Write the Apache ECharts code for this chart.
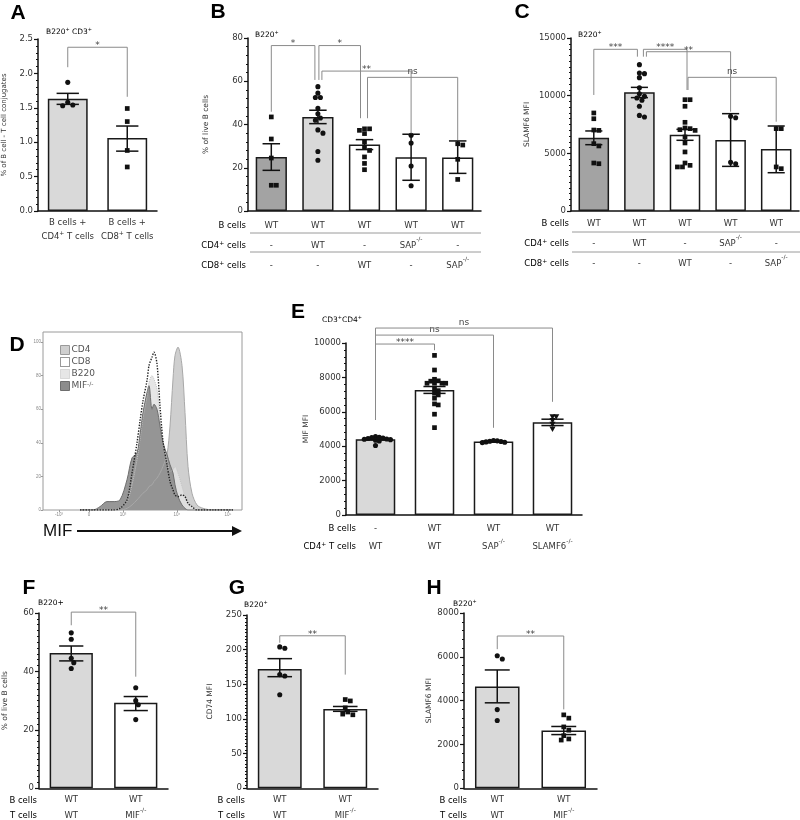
<!DOCTYPE html>
<html>
<head>
<meta charset="utf-8">
<title>Figure</title>
<script src="https://cdn.jsdelivr.net/npm/echarts@6.0.0/dist/echarts.min.js"></script>
<style>
  html, body { margin: 0; background: #fff; }
  #main { width: 800px; height: 820px; }
</style>
</head>
<body>
<div id="main"></div>
<script>
// ---------------- data ----------------
// panel A
const aRow1 = ['B cells +', 'B cells +'];
const aRow2 = ['CD4^+^ T cells', 'CD8^+^ T cells'];
const aBars = [1.63, 1.06];
const aErr = [[1.55, 1.71], [0.87, 1.235]];
const aPts = [[1.87, 1.58, 1.54, 1.53], [1.49, 1.30, 0.88, 0.64]];
const aBrackets = [[0, 1, 2.38, 2.09, 1.66]];
const aStars = ['*'];

// panels B and C share the table under the axis
const bcRow1 = ['WT', 'WT', 'WT', 'WT', 'WT'];
const bcRow2 = ['-', 'WT', '-', 'SAP^-/-^', '-'];
const bcRow3 = ['-', '-', 'WT', '-', 'SAP^-/-^'];
const bcHeads = ['B cells', 'CD4^+^ cells', 'CD8^+^ cells'];

const bBars = [25.0, 43.5, 30.7, 24.8, 24.7];
const bErr = [[18.8, 31.1], [40.4, 46.6], [28.4, 33.0], [14.2, 35.5], [17.4, 32.4]];
const bPts = [
  [43.5, 33.3, 24.5, 11.9, 11.9],
  [57.5, 54.5, 52.5, 52.5, 47.5, 45, 43, 42, 37.5, 36, 27.5, 23.5],
  [38, 38, 37.3, 35.8, 32, 29.6, 28, 25, 22, 19.1],
  [35, 31.4, 20.8, 11.7],
  [31.1, 30.5, 23.9, 14.6]
];
const bBrackets = [[0, 1, 76.5, 45.9, 60.6], [1, 2, 76.5, 60.6, 42.9], [1, 3, 64.7, 60.6, 35.9], [2, 4, 61.8, 42.9, 32.8]];
const bStars = ['*', '*', '**', 'ns'];

const cBars = [6360, 10290, 6620, 6160, 5380];
const cErr = [[5750, 6940], [9830, 10720], [6130, 7080], [3870, 8440], [3320, 7370]];
const cPts = [
  [8500, 8000, 7020, 6990, 5840, 5640, 4160, 4100],
  [12690, 11970, 11910, 11560, 10690, 10170, 9940, 9800, 9600, 9080, 8290, 8150],
  [9650, 9650, 9080, 7690, 7200, 7140, 7050, 6990, 6420, 5900, 5120, 4160, 3960, 3820, 3820],
  [8210, 8090, 4220, 4100],
  [7140, 7140, 3820, 3670]
];
const cBrackets = [[0, 1, 14020, 10060, 13380], [1, 2, 14020, 13380, 10490], [1, 3, 13810, 13380, 8610], [2, 4, 11590, 10490, 7740]];
const cStars = ['***', '****', '**', 'ns'];

// panel D histogram (channel position, % of max)
const histChannel = [37, 50, 57, 64, 70, 77, 84, 89, 94, 97, 100, 104, 106, 109, 111, 114, 117, 120, 124, 127, 130, 132, 135, 139, 142, 145, 149, 154, 160, 170, 190];
const histCD4  = [0, 0, 0, 0, 0, 0, 1, 3, 6, 8, 10, 12, 14, 15, 17, 19, 22, 26, 33, 50, 78, 92, 97, 86, 58, 26, 10, 3, 1, 0, 0];
const histB220 = [0, 0, 0, 0, 0, 1, 5, 15, 30, 42, 55, 68, 76, 80, 78, 72, 55, 40, 30, 23, 24, 26, 22, 14, 8, 4, 2, 1, 0, 0, 0];
const histMIF  = [0, 0, 2, 5, 5, 6, 18, 31, 34, 45, 58, 70, 74, 60, 63, 60, 50, 40, 33, 27, 22, 15, 8, 3, 1, 0, 0, 0, 0, 0, 0];
const histCD8  = [0, 0, 0, 0, 0, 1, 6, 22, 40, 53, 65, 77, 86, 91, 94, 87, 62, 41, 27, 17, 12, 9, 8, 9, 8, 4, 2, 0, 0, 0, 0];
const histTickPos = [16, 46, 80, 134, 185];
const histTickLabel = ['-10\u00b3', '0', '10\u00b3', '10\u2074', '10\u2075'];
const histYTicks = [0, 20, 40, 60, 80, 100];

// panel E
const eRow1 = ['-', 'WT', 'WT', 'WT'];
const eRow2 = ['WT', 'WT', 'SAP^-/-^', 'SLAMF6^-/-^'];
const eHeads = ['B cells', 'CD4^+^ T cells'];
const eBars = [4410, 7270, 4270, 5390];
const eErr = [[4370, 4450], [7070, 7470], [4245, 4295], [5200, 5570]];
const ePts = [
  [4560, 4520, 4500, 4480, 4450, 4420, 4400, 4380, 4350, 4300, 4040],
  [9280, 8430, 7890, 7800, 7780, 7660, 7660, 7660, 7660, 7310, 7230, 7080, 6980, 6790, 6460, 6400, 5860, 5080],
  [4330, 4310, 4290, 4270, 4250, 4230, 4210],
  [5720, 5720, 5500, 5290, 5010]
];
const eBrackets = [[0, 1, 9940, 5530, 9580], [0, 2, 10460, 5530, 5070], [0, 3, 10870, 5530, 6580]];
const eStars = ['****', 'ns', 'ns'];

// panels F, G, H
const fghRow1 = ['WT', 'WT'];
const fghRow2 = ['WT', 'MIF^-/-^'];
const fghHeads = ['B cells', 'T cells'];
const fBars = [46.3, 29.3];
const fErr = [[43.6, 48.7], [26.6, 31.4]];
const fPts = [[53.2, 51, 44.5, 43, 41], [34.4, 30, 28.6, 23.5]];
const fBrackets = [[0, 1, 60.3, 55.8, 38.2]];
const gBars = [172, 114.5];
const gErr = [[161, 187], [111, 118]];
const gPts = [[204, 202, 164, 162, 135], [128, 126, 116, 110, 107, 106]];
const gBrackets = [[0, 1, 220, 210, 164]];
const hBars = [4640, 2640];
const hErr = [[3900, 5400], [2450, 2820]];
const hPts = [[6050, 5900, 3590, 3090], [3350, 3200, 2800, 2650, 2400, 2250, 2200]];
const hBrackets = [[0, 1, 6950, 6350, 3600]];
const fghStars = ['**'];

// ---------------- styles / layout ----------------
const FONT = '"DejaVu Sans", sans-serif';
const DARK = '#a3a3a3', LIGHT = '#d9d9d9', WHITE = '#ffffff';
const SHAPE = { circle: 0, square: 1, tri: 2 };

// superscripts are written between ^...^
function sup(str) {
  return str.split('^').map((p, i) => p === '' ? '' : (i % 2 ? '{s|' + p + '}' : '{n|' + p + '}')).join('');
}
function richFor(size, lh) {
  return {
    n: { fontSize: size, fontFamily: FONT, color: '#333', lineHeight: lh },
    s: { fontSize: Math.round(size * 0.65), fontFamily: FONT, color: '#333',
         lineHeight: Math.max(4, lh - size * 0.8), verticalAlign: 'top' }
  };
}

// simple beeswarm: nudges dots sideways so they do not sit on each other
function swarm(vals, ppu, d) {
  const idx = vals.map((v, i) => i).sort((a, b) => vals[b] - vals[a]);
  const off = vals.map(() => 0);
  const placed = [];
  idx.forEach(i => {
    const y = vals[i] * ppu;
    for (let k = 0; k < 60; k++) {
      const o = (k % 2 ? 1 : -1) * Math.ceil(k / 2) * d * 0.55;
      if (placed.every(q => Math.hypot(o - q[0], y - q[1]) >= d)) { off[i] = o; break; }
    }
    placed.push([off[i], y]);
  });
  return off;
}

const option = {
  animation: false,
  backgroundColor: '#fff',
  grid: [], xAxis: [], yAxis: [], series: [], graphic: []
};

function gText(str, x, y, size, align) {
  return {
    type: 'text', silent: true,
    style: { text: sup(str), x: x, y: y, align: align || 'left', verticalAlign: 'middle',
             rich: richFor(size, Math.round(size * 1.35)) }
  };
}

function barPanel(p) {
  const gi = option.grid.length;
  const [L, T, W, H] = p.box;
  option.grid.push({ left: L, top: T, width: W, height: H });
  option.xAxis.push({
    type: 'category', gridIndex: gi, data: p.bars.map((v, i) => String(i)),
    axisLine: { lineStyle: { color: '#111', width: 1.5 } },
    axisTick: { alignWithLabel: true, length: 3, lineStyle: { color: '#111', width: 1.2 } },
    axisLabel: {
      interval: 0, margin: p.margin,
      formatter: (v, i) => p.rows.map(r => sup(r[i])).join('\n'),
      rich: richFor(8.5, p.lh)
    }
  });
  option.yAxis.push({
    type: 'value', gridIndex: gi, min: p.min, max: p.max, interval: p.interval,
    name: p.yName, nameLocation: 'middle', nameGap: p.nameGap,
    nameTextStyle: { fontSize: p.nameSize || 7.5, color: '#333', fontFamily: FONT },
    axisLine: { show: true, lineStyle: { color: '#111', width: 1.5 } },
    axisTick: { show: true, length: 4, lineStyle: { color: '#111', width: 1.2 } },
    minorTick: { show: true, splitNumber: p.minor, length: 2, lineStyle: { color: '#111', width: 1 } },
    splitLine: { show: false },
    axisLabel: { fontSize: 8.5, color: '#333', fontFamily: FONT, margin: 5,
                 formatter: p.fmt || (v => String(v)) }
  });
  // bars
  option.series.push({
    type: 'bar', xAxisIndex: gi, yAxisIndex: gi, barWidth: '67%', silent: true, z: 2,
    itemStyle: { borderColor: '#1a1a1a', borderWidth: 1.5 },
    data: p.bars.map((v, i) => ({ value: v, itemStyle: { color: p.colors[i] } }))
  });
  // dots
  const ppu = H / (p.max - p.min);
  const dots = [];
  p.pts.forEach((grp, i) => {
    const offs = swarm(grp, ppu, p.dotGap || 4.6);
    grp.forEach((v, k) => dots.push([i, v, offs[k], SHAPE[p.shapes[i]]]));
  });
  option.series.push({
    type: 'custom', xAxisIndex: gi, yAxisIndex: gi, silent: true, clip: false, z: 4, data: dots,
    renderItem: (params, api) => {
      const pt = api.coord([api.value(0), api.value(1)]);
      const x = pt[0] + api.value(2), y = pt[1], r = 2.35;
      const st = { fill: '#111' };
      const kind = api.value(3);
      if (kind === 1) return { type: 'rect', shape: { x: x - r, y: y - r, width: 2 * r, height: 2 * r }, style: st };
      if (kind === 2) return { type: 'polygon', shape: { points: [[x - r * 1.3, y - r], [x + r * 1.3, y - r], [x, y + r * 1.3]] }, style: st };
      return { type: 'circle', shape: { cx: x, cy: y, r: r + 0.2 }, style: st };
    }
  });
  // error bars
  option.series.push({
    type: 'custom', xAxisIndex: gi, yAxisIndex: gi, silent: true, clip: false, z: 5,
    data: p.err.map((e, i) => [i, e[0], e[1]]),
    renderItem: (params, api) => {
      const c = api.value(0);
      const lo = api.coord([c, api.value(1)]);
      const hi = api.coord([c, api.value(2)]);
      const half = api.size([1, 0])[0] * 0.67 * 0.28;
      const st = { stroke: '#111', lineWidth: 1.5 };
      return { type: 'group', children: [
        { type: 'line', shape: { x1: lo[0], y1: lo[1], x2: hi[0], y2: hi[1] }, style: st },
        { type: 'line', shape: { x1: lo[0] - half, y1: lo[1], x2: lo[0] + half, y2: lo[1] }, style: st },
        { type: 'line', shape: { x1: hi[0] - half, y1: hi[1], x2: hi[0] + half, y2: hi[1] }, style: st }
      ] };
    }
  });
  // significance brackets
  const nudge = p.nudge || [];
  option.series.push({
    type: 'custom', xAxisIndex: gi, yAxisIndex: gi, silent: true, clip: false, z: 5,
    data: p.brackets.map(b => b.slice()),
    renderItem: (params, api) => {
      const c1 = api.value(0), c2 = api.value(1);
      const a = api.coord([c1, api.value(2)]);
      const b = api.coord([c2, api.value(2)]);
      const y1 = api.coord([c1, api.value(3)])[1];
      const y2 = api.coord([c2, api.value(4)])[1];
      const n = nudge[params.dataIndex] || [0, 0];
      const x1 = a[0] + n[0], x2 = b[0] + n[1];
      const label = p.stars[params.dataIndex];
      const star = label.indexOf('*') >= 0;
      return { type: 'group', children: [
        { type: 'polyline', shape: { points: [[x1, y1], [x1, a[1]], [x2, a[1]], [x2, y2]] },
          style: { stroke: '#8a8a8a', lineWidth: 1, fill: 'none' } },
        { type: 'text', style: { text: label, x: (x1 + x2) / 2, y: a[1] + (star ? 3 : -1),
          align: 'center', verticalAlign: 'bottom', fontSize: 9, fill: '#444', fontFamily: FONT } }
      ] };
    }
  });
  // row headers of the table under the axis
  (p.heads || []).forEach((h, k) => {
    option.graphic.push(gText(h, p.headX, T + H + p.margin + p.lh * (k + 0.5), 8.5, 'right'));
  });
}

barPanel({ box: [38, 39, 119, 172], min: 0, max: 2.5, interval: 0.5, minor: 5, fmt: v => v.toFixed(1),
  yName: '% of B cell - T cell conjugates', nameGap: 30, nameSize: 7,
  rows: [aRow1, aRow2], lh: 14, margin: 5,
  bars: aBars, err: aErr, pts: aPts, shapes: ['circle', 'square'], colors: [LIGHT, WHITE],
  brackets: aBrackets, stars: aStars });

barPanel({ box: [248, 38, 233, 173], min: 0, max: 80, interval: 20, minor: 5,
  yName: '% of live B cells', nameGap: 38,
  rows: [bcRow1, bcRow2, bcRow3], heads: bcHeads, headX: 246, lh: 20, margin: 5,
  bars: bBars, err: bErr, pts: bPts, shapes: ['square', 'circle', 'square', 'circle', 'square'],
  colors: [DARK, LIGHT, WHITE, WHITE, WHITE],
  brackets: bBrackets, stars: bStars, nudge: [[0, -3], [1, -4], [4, 0], [3, 0]] });

barPanel({ box: [571, 38, 228, 173], min: 0, max: 15000, interval: 5000, minor: 10,
  yName: 'SLAMF6 MFI', nameGap: 40,
  rows: [bcRow1, bcRow2, bcRow3], heads: bcHeads, headX: 569, lh: 20, margin: 3,
  bars: cBars, err: cErr, pts: cPts, shapes: ['square', 'circle', 'square', 'circle', 'square'],
  colors: [DARK, LIGHT, WHITE, WHITE, WHITE],
  brackets: cBrackets, stars: cStars, nudge: [[0, -2], [4, 2], [7, 0], [3, 0]] });

barPanel({ box: [346, 343, 236, 172], min: 0, max: 10000, interval: 2000, minor: 5,
  yName: 'MIF MFI', nameGap: 33,
  rows: [eRow1, eRow2], heads: eHeads, headX: 356, lh: 18, margin: 5,
  bars: eBars, err: eErr, pts: ePts, shapes: ['circle', 'square', 'circle', 'tri'], dotGap: 3.4,
  colors: [LIGHT, WHITE, WHITE, WHITE],
  brackets: eBrackets, stars: eStars });

barPanel({ box: [38, 613, 130, 176], min: 0, max: 60, interval: 20, minor: 10,
  yName: '% of live B cells', nameGap: 30,
  rows: [fghRow1, fghRow2], heads: fghHeads, headX: 37, lh: 15.5, margin: 4,
  bars: fBars, err: fErr, pts: fPts, shapes: ['circle', 'circle'], colors: [LIGHT, WHITE],
  brackets: fBrackets, stars: fghStars });

barPanel({ box: [247, 615, 131, 174], min: 0, max: 250, interval: 50, minor: 10,
  yName: 'CD74 MFI', nameGap: 33,
  rows: [fghRow1, fghRow2], heads: fghHeads, headX: 245, lh: 15.5, margin: 4,
  bars: gBars, err: gErr, pts: gPts, shapes: ['circle', 'square'], colors: [LIGHT, WHITE],
  brackets: gBrackets, stars: fghStars });

barPanel({ box: [464, 613, 133, 176], min: 0, max: 8000, interval: 2000, minor: 5,
  yName: 'SLAMF6 MFI', nameGap: 31,
  rows: [fghRow1, fghRow2], heads: fghHeads, headX: 467, lh: 15.5, margin: 4,
  bars: hBars, err: hErr, pts: hPts, shapes: ['circle', 'square'], colors: [LIGHT, WHITE],
  brackets: hBrackets, stars: fghStars });

// ---------------- panel D: histogram ----------------
(function () {
  const gi = option.grid.length;
  option.grid.push({ left: 43, top: 332, width: 199, height: 178, show: true, borderColor: '#9a9a9a', borderWidth: 1 });
  option.xAxis.push({
    type: 'value', gridIndex: gi, min: 0, max: 199,
    axisLine: { show: false }, splitLine: { show: false },
    axisTick: { show: true, customValues: histTickPos, length: 2, lineStyle: { color: '#999' } },
    axisLabel: { customValues: histTickPos, fontSize: 4.5, color: '#888', margin: 2,
                 formatter: v => histTickLabel[histTickPos.indexOf(v)] }
  });
  option.yAxis.push({
    type: 'value', gridIndex: gi, min: 0, max: 106,
    axisLine: { show: false }, splitLine: { show: false },
    axisTick: { show: true, customValues: histYTicks, length: 2, lineStyle: { color: '#999' } },
    axisLabel: { customValues: histYTicks, fontSize: 4.5, color: '#888', margin: 2 }
  });
  const histData = arr => histChannel.map((c, i) => [c, arr[i]]);
  const base = { type: 'line', xAxisIndex: gi, yAxisIndex: gi, smooth: 0.3, symbol: 'none', silent: true };
  option.series.push(Object.assign({}, base, { name: 'CD4', data: histData(histCD4),
    lineStyle: { color: '#a8a8a8', width: 1 }, itemStyle: { color: '#cfcfcf' }, areaStyle: { color: '#cfcfcf', opacity: 1 } }));
  option.series.push(Object.assign({}, base, { name: 'B220', data: histData(histB220),
    lineStyle: { color: '#c4c4c4', width: 1, type: 'dotted' }, itemStyle: { color: '#e2e2e2' }, areaStyle: { color: '#e2e2e2', opacity: 0.85 } }));
  option.series.push(Object.assign({}, base, { name: 'MIF-/-', data: histData(histMIF),
    lineStyle: { color: '#6e6e6e', width: 1 }, itemStyle: { color: '#8c8c8c' }, areaStyle: { color: '#8c8c8c', opacity: 0.9 } }));
  option.series.push(Object.assign({}, base, { name: 'CD8', data: histData(histCD8),
    lineStyle: { color: '#222', width: 1.4, type: 'dotted' }, itemStyle: { color: '#fff' } }));
})();

option.legend = {
  left: 55, top: 340, orient: 'vertical', itemWidth: 9, itemHeight: 9, itemGap: 2,
  icon: 'rect', selectedMode: false,
  textStyle: { fontSize: 9, color: '#555', fontFamily: FONT, padding: [0, 0, 0, -3],
    rich: { n: { fontSize: 9, color: '#555', fontFamily: FONT }, s: { fontSize: 6, color: '#555', fontFamily: FONT, verticalAlign: 'top', lineHeight: 6 } } },
  formatter: name => name === 'MIF-/-' ? '{n|MIF}{s|-/-}' : '{n|' + name + '}',
  data: [
    { name: 'CD4', itemStyle: { color: '#cfcfcf', borderColor: '#9a9a9a', borderWidth: 1 } },
    { name: 'CD8', itemStyle: { color: '#fff', borderColor: '#333', borderWidth: 1, borderType: 'dotted' } },
    { name: 'B220', itemStyle: { color: '#e6e6e6', borderColor: '#bdbdbd', borderWidth: 1, borderType: 'dotted' } },
    { name: 'MIF-/-', itemStyle: { color: '#8c8c8c', borderColor: '#6e6e6e', borderWidth: 1 } }
  ]
};

// ---------------- annotations ----------------
const letters = [['A', 18, 13], ['B', 218, 12], ['C', 522, 12], ['D', 17, 345], ['E', 298, 312], ['F', 29, 588], ['G', 237, 588], ['H', 434, 588]];
letters.forEach(l => option.graphic.push({
  type: 'text', silent: true,
  style: { text: l[0], x: l[1], y: l[2], align: 'center', verticalAlign: 'middle',
           font: 'bold 21px "Liberation Sans", Arial, sans-serif', fill: '#000' }
}));

const subLabels = [['B220^+^ CD3^+^', 46, 32], ['B220^+^', 255, 35], ['B220^+^', 578, 35], ['CD3^+^CD4^+^', 322, 320],
  ['B220+', 38, 603], ['B220^+^', 244, 605], ['B220^+^', 453, 604]];
subLabels.forEach(s => option.graphic.push(gText(s[0], s[1], s[2], 7.5, 'left')));

// table separators under B and C
[[250, 481, 233], [250, 481, 252], [572, 800, 232], [572, 800, 252]].forEach(s => option.graphic.push({
  type: 'line', silent: true, shape: { x1: s[0], y1: s[2], x2: s[1], y2: s[2] },
  style: { stroke: '#9a9a9a', lineWidth: 1 }
}));

// MIF axis arrow of the histogram
option.graphic.push({
  type: 'text', silent: true,
  style: { text: 'MIF', x: 43, y: 531, align: 'left', verticalAlign: 'middle',
           font: '17px "Liberation Sans", Arial, sans-serif', fill: '#111' }
});
option.graphic.push({ type: 'line', silent: true, shape: { x1: 77, y1: 531, x2: 234, y2: 531 }, style: { stroke: '#111', lineWidth: 2.2 } });
option.graphic.push({ type: 'polygon', silent: true, shape: { points: [[232, 526], [242, 531], [232, 536]] }, style: { fill: '#111' } });

const chart = echarts.init(document.getElementById('main'), null, { renderer: 'canvas' });
chart.setOption(option);
</script>
</body>
</html>
